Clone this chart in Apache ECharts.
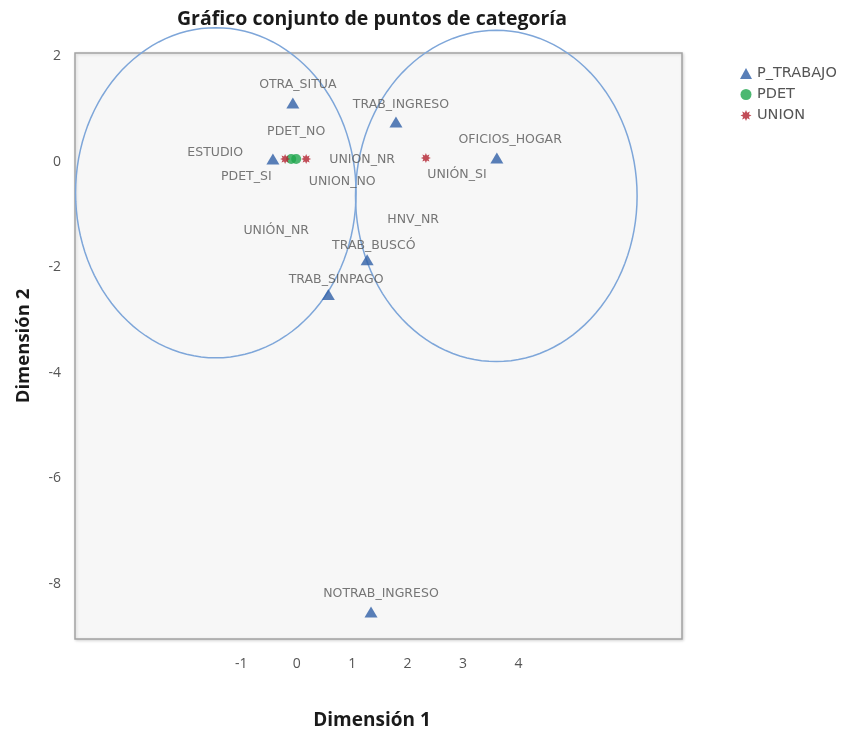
<!DOCTYPE html>
<html>
<head>
<meta charset="utf-8">
<script src="https://cdn.jsdelivr.net/npm/echarts@6/dist/echarts.min.js"></script>
<style>html,body{margin:0;padding:0;background:#fff}#chart{width:850px;height:735px}</style>
</head>
<body>
<div id="chart"></div>
<script>
// ---- data ----
const titleText = 'Gráfico conjunto de puntos de categoría';
const xName = 'Dimensión 1';
const yName = 'Dimensión 2';
const xTicks = [-1, 0, 1, 2, 3, 4];
const yTicks = [-8, -6, -4, -2, 0, 2];
const seriesNames = ['P_TRABAJO', 'PDET', 'UNION'];

const pTrabajoPoints = [
  ['OTRA_SITUA', -0.07, 1.11],
  ['TRAB_INGRESO', 1.79, 0.75],
  ['ESTUDIO', -0.43, 0.05],
  ['OFICIOS_HOGAR', 3.61, 0.07],
  ['TRAB_BUSCÓ', 1.27, -1.86],
  ['TRAB_SINPAGO', 0.57, -2.52],
  ['NOTRAB_INGRESO', 1.34, -8.54]
];
const pdetPoints = [
  ['PDET_SI', -0.10, 0.05],
  ['PDET_NO', -0.01, 0.05]
];
const unionPoints = [
  ['UNION_NO', -0.21, 0.05],
  ['UNION_NR', 0.17, 0.05],
  ['UNIÓN_SI', 2.33, 0.07]
];
// text labels as drawn in the plot (data coordinates of text centre)
const pointLabels = [
  ['OTRA_SITUA', 0.02, 1.45],
  ['TRAB_INGRESO', 1.88, 1.08],
  ['PDET_NO', -0.01, 0.56],
  ['ESTUDIO', -1.47, 0.17],
  ['UNION_NR', 1.18, 0.03],
  ['PDET_SI', -0.91, -0.29],
  ['UNION_NO', 0.82, -0.38],
  ['OFICIOS_HOGAR', 3.85, 0.41],
  ['UNIÓN_SI', 2.89, -0.25],
  ['HNV_NR', 2.10, -1.10],
  ['UNIÓN_NR', -0.37, -1.31],
  ['TRAB_BUSCÓ', 1.39, -1.59],
  ['TRAB_SINPAGO', 0.71, -2.24],
  ['NOTRAB_INGRESO', 1.52, -8.20]
];
// annotation ellipses: centre x, centre y, radius x, radius y (data units)
const ellipses = [
  [-1.46, -0.59, 2.53, 3.13],
  [3.60, -0.65, 2.54, 3.14]
];

// ---- styles ----
function starPath(n) {
  let d = '';
  for (let i = 0; i < n * 2; i++) {
    const r = i % 2 === 0 ? 10 : 5.5;
    const a = Math.PI * i / n - Math.PI / 2;
    d += (i === 0 ? 'M' : 'L') + (10 + r * Math.cos(a)).toFixed(2) + ' ' + (10 + r * Math.sin(a)).toFixed(2) + ' ';
  }
  return 'path://' + d + 'Z';
}
const starSymbol = starPath(8);
const font = "'Open Sans', 'Noto Sans', sans-serif";
const wideFont = "'DejaVu Sans', 'Open Sans', sans-serif";

function toData(arr) { return arr.map(p => ({ name: p[0], value: [p[1], p[2]] })); }

const chart = echarts.init(document.getElementById('chart'), null, { renderer: 'canvas' });
chart.setOption({
  animation: false,
  backgroundColor: '#ffffff',
  title: {
    text: titleText,
    left: 172, top: 4,
    textStyle: { fontFamily: font, fontSize: 19.5, fontWeight: 'bold', color: '#1a1a1a' }
  },
  legend: {
    data: [
      { name: seriesNames[0], icon: 'triangle' },
      { name: seriesNames[1], icon: 'circle' },
      { name: seriesNames[2], icon: starSymbol }
    ],
    orient: 'vertical',
    left: 735, top: 61,
    itemWidth: 12, itemHeight: 11, itemGap: 6,
    textStyle: { fontFamily: wideFont, fontSize: 14.5, color: '#555' }
  },
  grid: {
    left: 75, top: 53, width: 607, height: 587,
    show: true, backgroundColor: '#f7f7f7', borderColor: '#a3a3a3', borderWidth: 1.5,
    shadowColor: 'rgba(0,0,0,0.15)', shadowBlur: 3, shadowOffsetX: 1, shadowOffsetY: 1
  },
  xAxis: {
    type: 'value', min: -4, max: 6.95,
    name: xName, nameLocation: 'middle', nameGap: 72,
    nameTextStyle: { fontFamily: font, fontSize: 19, fontWeight: 'bold', color: '#1a1a1a', padding: [0, 13, 0, 0] },
    axisLine: { show: false }, axisTick: { show: false }, splitLine: { show: false },
    axisLabel: { customValues: xTicks, margin: 18, fontFamily: font, fontSize: 14, color: '#555' }
  },
  yAxis: {
    type: 'value', min: -9.05, max: 2.06,
    name: yName, nameLocation: 'middle', nameGap: 42, nameRotate: 90,
    nameTextStyle: { fontFamily: font, fontSize: 18.5, fontWeight: 'bold', color: '#1a1a1a' },
    axisLine: { show: false }, axisTick: { show: false }, splitLine: { show: false },
    axisLabel: { customValues: yTicks, margin: 14, fontFamily: font, fontSize: 14, color: '#555' }
  },
  series: [
    {
      type: 'custom', name: 'elipses', silent: true, clip: false, z: 1,
      encode: { x: 0, y: 1 },
      data: ellipses,
      renderItem: function (params, api) {
        const cx = api.value(0), cy = api.value(1), rx = api.value(2), ry = api.value(3);
        const pts = [];
        for (let i = 0; i <= 120; i++) {
          const t = 2 * Math.PI * i / 120;
          pts.push(api.coord([cx + rx * Math.cos(t), cy + ry * Math.sin(t)]));
        }
        return { type: 'polyline', shape: { points: pts }, style: { fill: null, stroke: '#7ea6d9', lineWidth: 1.5 } };
      }
    },
    {
      type: 'scatter', name: seriesNames[0], symbol: 'triangle', symbolSize: [13, 11], z: 3,
      itemStyle: { color: '#2f5fa6' }, data: toData(pTrabajoPoints)
    },
    {
      type: 'scatter', name: seriesNames[1], symbol: 'circle', symbolSize: 10, z: 3,
      itemStyle: { color: '#1fa64e' }, data: toData(pdetPoints)
    },
    {
      type: 'scatter', name: seriesNames[2], symbol: starSymbol, symbolSize: 10, z: 4,
      itemStyle: { color: '#b3202e' }, data: toData(unionPoints)
    },
    {
      type: 'scatter', name: 'etiquetas', symbolSize: 0, silent: true, z: 5,
      label: { show: true, position: 'inside', formatter: '{b}', fontFamily: wideFont, fontSize: 12.5, color: '#555' },
      data: toData(pointLabels)
    }
  ]
});
</script>
</body>
</html>
